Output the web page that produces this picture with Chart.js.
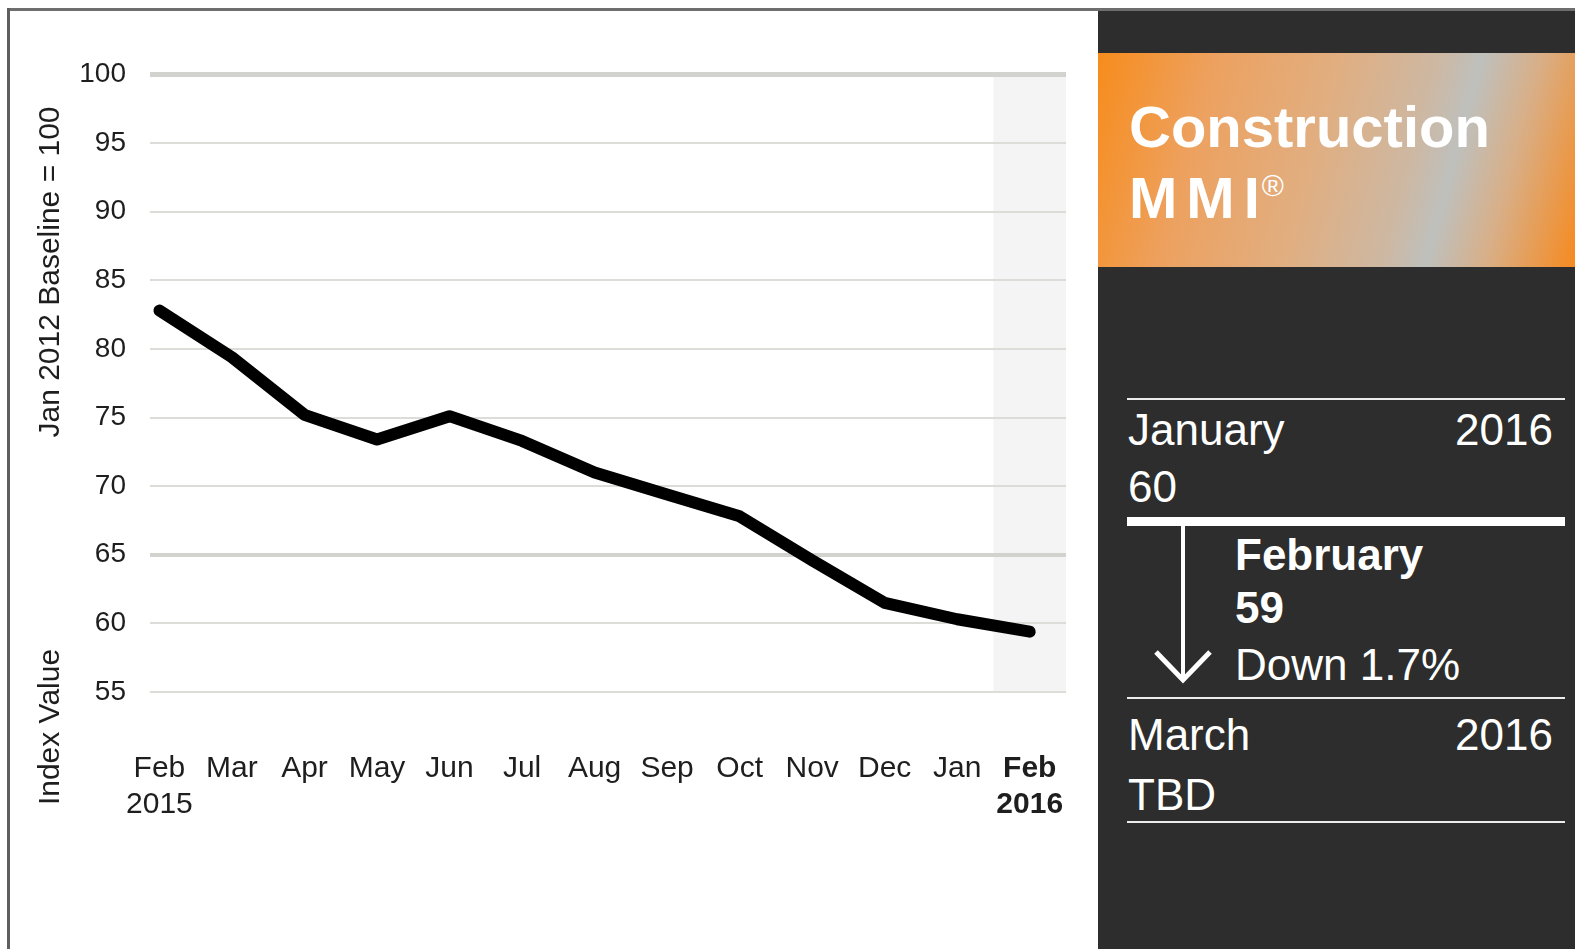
<!DOCTYPE html>
<html>
<head>
<meta charset="utf-8">
<script src="https://cdn.jsdelivr.net/npm/chart.js@4"></script>
<style>
  body { margin: 0; background: #fff; font-family: "Liberation Sans", Arial, sans-serif; }
  #wrap { position: relative; width: 1575px; height: 949px; overflow: hidden; }
  #chartBox { position: absolute; left: 0; top: 0; width: 1098px; height: 949px; }
  .abs { position: absolute; white-space: nowrap; }
  .ytitle { font-size: 30px; line-height: 30px; color: #1e1e1e; transform: translate(-50%, -50%) rotate(-90deg); }
  #panel { position: absolute; left: 1098px; top: 11px; width: 477px; height: 938px; background: #2c2d2c; }
  #banner { position: absolute; left: 1098px; top: 53px; width: 477px; height: 214px;
    background: linear-gradient(105deg, #f78c1c 0%, #eda15f 22%, #e1ae80 45%, #cdb8a3 64%, #bec0bd 72%, #d8af88 83%, #f68a20 100%); }
  .w { color: #fff; font-size: 44px; line-height: 44px; }
  .b { font-weight: bold; }
  .rule { position: absolute; left: 1127px; width: 438px; background: #ececec; }
</style>
</head>
<body>
<div id="wrap">
  <div id="chartBox"><canvas id="mmiChart" width="1098" height="949"></canvas></div>

  <div class="abs" style="left:7px;top:8px;width:1568px;height:3px;background:#6e6e6e;"></div>
  <div class="abs" style="left:7px;top:8px;width:3px;height:941px;background:#5e5e5e;"></div>

  <div class="abs ytitle" style="left:49px;top:272px;">Jan 2012 Baseline = 100</div>
  <div class="abs ytitle" style="left:49px;top:727px;">Index Value</div>

  <div id="panel"></div>
  <div id="banner"></div>
  <div class="abs b" style="left:1129px;top:98px;color:#fff;font-size:58px;line-height:58px;">Construction</div>
  <div class="abs b" style="left:1129px;top:169px;color:#fff;font-size:58px;line-height:58px;letter-spacing:9px;">MMI<span style="font-size:30px;letter-spacing:0;position:relative;top:-22px;margin-left:-7px;font-weight:normal;">&reg;</span></div>

  <div class="rule" style="top:398px;height:2px;"></div>
  <div class="abs w" style="left:1128px;top:408px;">January</div>
  <div class="abs w" style="right:22px;top:408px;">2016</div>
  <div class="abs w" style="left:1128px;top:465px;">60</div>
  <div class="rule" style="top:517px;height:9px;background:#fff;"></div>

  <svg class="abs" style="left:1140px;top:520px;" width="90" height="170">
    <line x1="43" y1="4" x2="43" y2="160" stroke="#fff" stroke-width="4"/>
    <polyline points="16,132 43,160 70,132" fill="none" stroke="#fff" stroke-width="5"/>
  </svg>

  <div class="abs w b" style="left:1235px;top:533px;">February</div>
  <div class="abs w b" style="left:1235px;top:586px;">59</div>
  <div class="abs w" style="left:1235px;top:643px;">Down 1.7%</div>

  <div class="rule" style="top:697px;height:2px;"></div>
  <div class="abs w" style="left:1128px;top:713px;">March</div>
  <div class="abs w" style="right:22px;top:713px;">2016</div>
  <div class="abs w" style="left:1128px;top:773px;">TBD</div>
  <div class="rule" style="top:821px;height:2px;"></div>
</div>

<script>
// months shown on the x axis (first and last carry the year)
const months = [['Feb', '2015'], 'Mar', 'Apr', 'May', 'Jun', 'Jul', 'Aug', 'Sep', 'Oct', 'Nov', 'Dec', 'Jan', ['Feb', '2016']];
// Construction MMI, Jan 2012 = 100
const indexValues = [82.8, 79.4, 75.2, 73.4, 75.1, 73.3, 71.0, 69.4, 67.8, 64.6, 61.5, 60.3, 59.4];
const yMin = 55;
const yMax = 100;
const yStep = 5;
const currentMonth = months.length - 1;

const ctx = document.getElementById('mmiChart').getContext('2d');

// light grey band behind the current month
const currentBand = {
  id: 'currentBand',
  beforeDraw(chart) {
    const { ctx, chartArea, scales } = chart;
    const x0 = scales.x.getPixelForValue(currentMonth - 0.5);
    ctx.save();
    ctx.fillStyle = '#f4f4f4';
    ctx.fillRect(x0, chartArea.top, chartArea.right - x0, chartArea.bottom - chartArea.top);
    ctx.restore();
  }
};

new Chart(ctx, {
  type: 'line',
  data: {
    datasets: [{
      data: indexValues.map((v, i) => ({ x: i, y: v })),
      borderColor: '#000',
      borderWidth: 12,
      borderCapStyle: 'round',
      borderJoinStyle: 'round',
      pointRadius: 0,
      tension: 0,
      fill: false
    }]
  },
  options: {
    responsive: false,
    animation: false,
    layout: { padding: { left: 0, right: 32, top: 74.5, bottom: 107 } },
    plugins: { legend: { display: false }, tooltip: { enabled: false } },
    scales: {
      x: {
        type: 'linear',
        min: -0.13,
        max: currentMonth + 0.5,
        grid: { display: false, drawTicks: false },
        border: { display: false },
        afterFit(scale) {
          scale.height = 150;
          scale.paddingLeft = 0;
          scale.paddingRight = 0;
        },
        afterBuildTicks(scale) { scale.ticks = months.map((m, i) => ({ value: i })); },
        ticks: {
          autoSkip: false,
          maxRotation: 0,
          padding: 59,
          color: '#1e1e1e',
          font: (c) => ({ family: 'Liberation Sans', size: 30, weight: c.index === currentMonth ? 'bold' : 'normal' }),
          callback: (value) => months[value]
        }
      },
      y: {
        min: yMin,
        max: yMax,
        afterFit(scale) { scale.width = 150; },
        grid: {
          drawTicks: false,
          color: (c) => (c.tick.value === 100 || c.tick.value === 65) ? '#d2d2ce' : '#dcdcd9',
          lineWidth: (c) => c.tick.value === 100 ? 5 : (c.tick.value === 65 ? 4 : 2)
        },
        border: { display: false },
        ticks: {
          stepSize: yStep,
          padding: 24,
          color: '#1e1e1e',
          font: { family: 'Liberation Sans', size: 28 }
        }
      }
    }
  },
  plugins: [currentBand]
});
</script>
</body>
</html>
